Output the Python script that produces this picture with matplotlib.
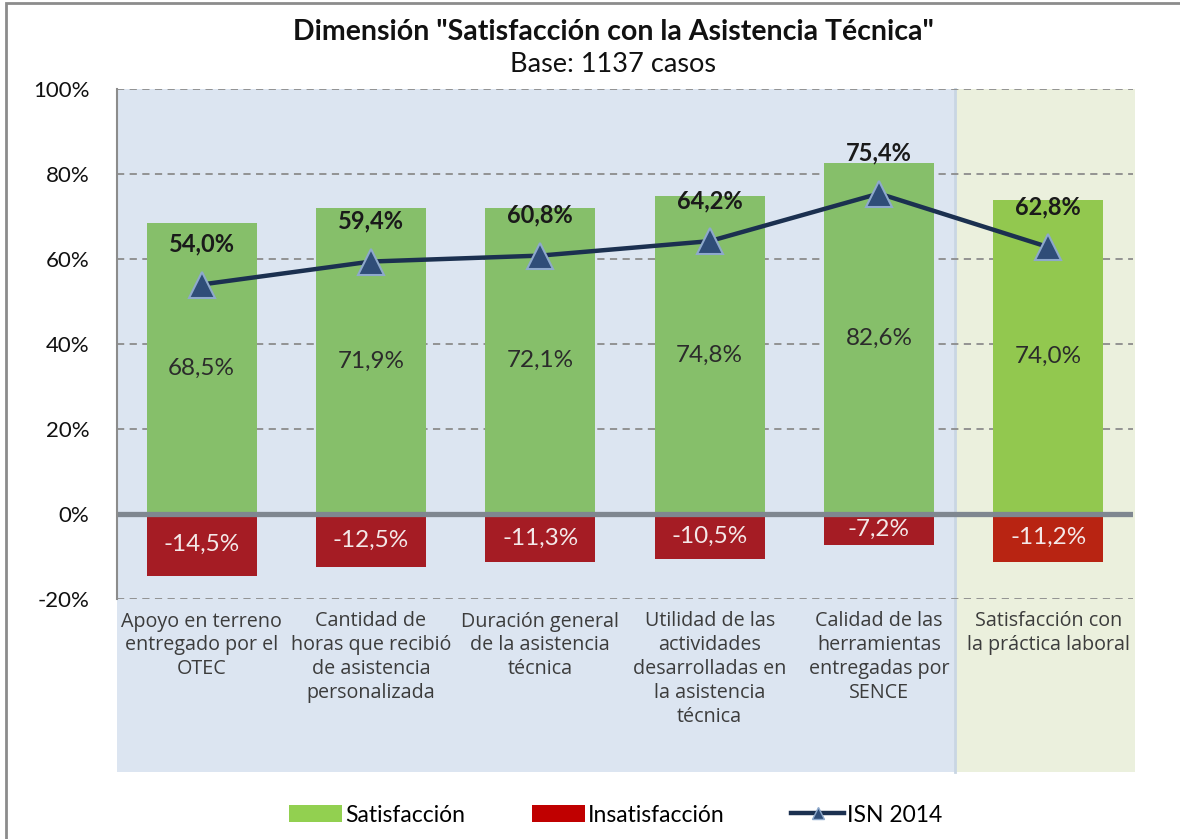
import matplotlib.pyplot as plt
from matplotlib.patches import Rectangle
from matplotlib.lines import Line2D
from matplotlib.patches import Patch

plt.rcParams['font.family'] = ['Lato', 'DejaVu Sans']

# data
categorias = [
    "Apoyo en terreno\nentregado por el\nOTEC",
    "Cantidad de\nhoras que recibió\nde asistencia\npersonalizada",
    "Duración general\nde la asistencia\ntécnica",
    "Utilidad de las\nactividades\ndesarrolladas en\nla asistencia\ntécnica",
    "Calidad de las\nherramientas\nentregadas por\nSENCE",
    "Satisfacción con\nla práctica laboral",
]
satisfaccion = [68.5, 71.9, 72.1, 74.8, 82.6, 74.0]
insatisfaccion = [-14.5, -12.5, -11.3, -10.5, -7.2, -11.2]
isn_2014 = [54.0, 59.4, 60.8, 64.2, 75.4, 62.8]
yticks = [-20, 0, 20, 40, 60, 80, 100]

def pct(v):
    return f"{v:.1f}%".replace(".", ",")

fig = plt.figure(figsize=(11.8, 8.39), dpi=100)
ax = fig.add_axes([117/1180, 1 - 599/839, 1016/1180, 510/839])

n = len(categorias)
x = list(range(n))
ax.set_xlim(-0.5, n - 0.5)
ax.set_ylim(-20, 100)

# shaded backgrounds (extend under category labels)
ylow = -60.7
split = n - 1.55
ax.add_patch(Rectangle((-0.5, ylow), split + 0.5, 100 - ylow, facecolor="#dce5f1",
                       edgecolor="none", zorder=0, clip_on=False))
ax.add_patch(Rectangle((split, ylow), n - 0.49 - split, 100 - ylow, facecolor="#ebf0dd",
                       edgecolor="none", zorder=0, clip_on=False))
ax.plot([split, split], [ylow, 100], color="#c9d6e3", lw=2, zorder=0.5, clip_on=False)

for t in yticks:
    if t != 0:
        ax.axhline(t, color="#8c8c8c", ls=(0, (4, 3)), lw=1.3, zorder=1)

sat_colors = ["#86bf6a"] * (n - 1) + ["#92c84f"]
ins_colors = ["#a51c24"] * (n - 1) + ["#b82412"]
ax.bar(x, satisfaccion, width=0.65, color=sat_colors, zorder=2)
ax.bar(x, insatisfaccion, width=0.65, color=ins_colors, zorder=2)
ax.axhline(0, color="#7f8790", lw=3.8, zorder=3)

ax.plot(x, isn_2014, color="#1b3050", lw=3.2, marker="^", markersize=19,
        markerfacecolor="#2f4d78", markeredgecolor="#8ea9cc", markeredgewidth=1.5, zorder=4)

for i in x:
    ax.text(i, satisfaccion[i] / 2, pct(satisfaccion[i]), ha="center", va="center",
            fontsize=17.5, color="#2b2b2b", zorder=5)
    ax.text(i, insatisfaccion[i] / 2, pct(insatisfaccion[i]), ha="center", va="center",
            fontsize=17.5, color="#f4e8e8", zorder=5)
    ax.annotate(pct(isn_2014[i]), (i, isn_2014[i]), xytext=(0, 29), textcoords="offset points",
                ha="center", va="center", fontsize=17, fontweight="bold", color="#1a1a1a", zorder=5)

ax.set_yticks(yticks)
ax.set_yticklabels([f"{t}%" for t in yticks], fontsize=16, color="#111111")
ax.tick_params(axis="y", length=0, pad=20)
ax.set_xticks(x)
ax.set_xticklabels(categorias, fontsize=14.2, color="#3c3c3c", linespacing=1.25, va="top",
                   family=["Open Sans", "DejaVu Sans"])
ax.tick_params(axis="x", length=0, pad=9)

for s in ["top", "right", "bottom"]:
    ax.spines[s].set_visible(False)
ax.spines["left"].set_color("#8c8c8c")
ax.spines["left"].set_linewidth(1.5)
ax.spines["left"].set_zorder(3)
ax.patch.set_visible(False)

fig.text(613/1180, 1 - 32/839, 'Dimensión "Satisfacción con la Asistencia Técnica"',
         ha="center", va="center", fontsize=20.5, fontweight="bold", color="#111111")
fig.text(613/1180, 1 - 64/839, "Base: 1137 casos", ha="center", va="center",
         fontsize=19.5, color="#111111")

handles = [
    Patch(facecolor="#92d050", label="Satisfacción"),
    Patch(facecolor="#c00000", label="Insatisfacción"),
    Line2D([0], [0], color="#1b3050", lw=3.2, marker="^", markersize=8,
           markerfacecolor="#2f4d78", markeredgecolor="#8ea9cc", label="ISN 2014"),
]
fig.legend(handles=handles, loc="center", bbox_to_anchor=(616/1180, 1 - 815/839), ncol=3,
           frameon=False, fontsize=16.5, handlelength=2.3, handleheight=0.8,
           handletextpad=0.15, columnspacing=2.9)

fig.add_artist(Rectangle((6/1180, -0.01), 1.2, 1 - 3/839 + 0.01, transform=fig.transFigure,
                         facecolor="none", edgecolor="#8c8c8c", lw=2))

fig.savefig("out.png", dpi=100)
